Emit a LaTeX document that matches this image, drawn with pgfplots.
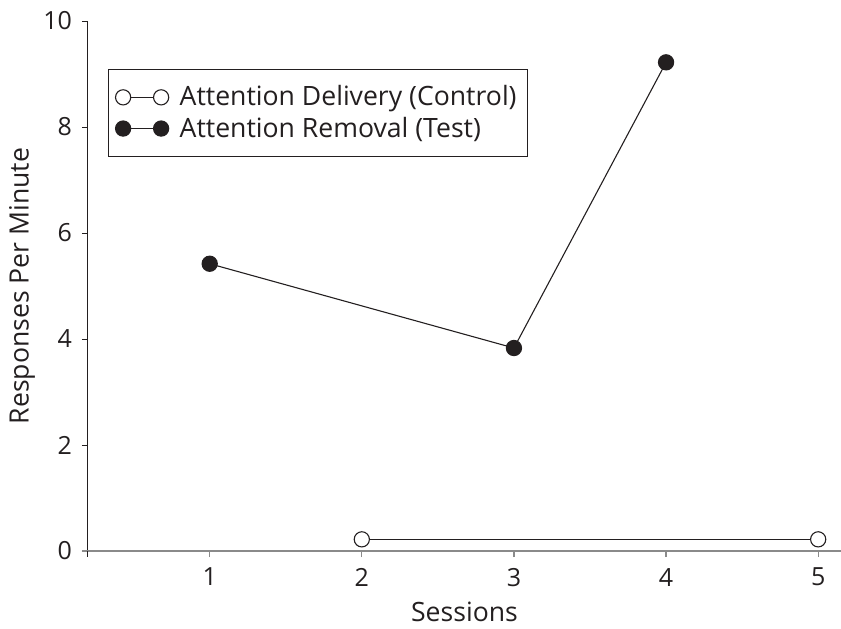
\documentclass[border=0pt]{standalone}
\usepackage{pgfplots}
\pgfplotsset{compat=1.18}
\usepackage{fontspec}
\setmainfont{Open Sans}
\definecolor{ink}{HTML}{231F20}
\definecolor{axgray}{HTML}{8A8A8A}
\begin{document}
\begin{tikzpicture}
\begin{axis}[
  scale only axis,
  width=376.5pt, height=265pt,
  xmin=0.2, xmax=5.15, ymin=0, ymax=10,
  axis x line=bottom, axis y line=left,
  x axis line style={-, draw=axgray, line width=0.8pt},
  y axis line style={-, draw=ink, line width=0.5pt},
  xtick={1,2,3,4,5}, ytick={0,2,4,6,8,10},
  tick align=outside,
  major tick length=3pt,
  xtick style={draw=axgray, line width=0.6pt},
  ytick style={draw=ink, line width=0.5pt},
  /pgf/number format/assume math mode=true,
  tick label style={font=\fontsize{12.5}{14}\selectfont, text=ink},
  xticklabel style={yshift=-2pt},
  yticklabel style={xshift=-1.5pt},
  xlabel={Sessions}, ylabel={Responses Per Minute},
  label style={font=\fontsize{13.3}{15}\selectfont, text=ink},
  xlabel style={at={(axis description cs:0.5,-0.133)}, anchor=base, inner sep=0pt},
  ylabel style={at={(axis description cs:-0.0876,0.5)}, anchor=center},
  clip=false,
  legend cell align=left,
  legend style={at={(rel axis cs:0.0266,0.909)}, anchor=north west,
    draw=ink, line width=0.5pt, font=\fontsize{13.3}{15}\selectfont, text=ink,
    inner xsep=3.5pt, inner ysep=6pt, row sep=0pt},
  legend image code/.code={\draw[#1] plot coordinates {(0pt,0pt) (19pt,0pt)};
    \path (26pt,0pt);},
]
\addplot[ink, line width=0.55pt, mark=*, mark size=3.8pt,
  mark options={fill=white, draw=ink, line width=0.55pt}]
  coordinates {(2,0.22) (5,0.22)};
\addlegendentry{Attention Delivery (Control)}
\addplot[ink, line width=0.55pt, mark=*, mark size=3.8pt,
  mark options={fill=ink, draw=ink}]
  coordinates {(1,5.42) (3,3.83) (4,9.22)};
\addlegendentry{Attention Removal (Test)}
\draw[axgray, line width=0.8pt] (axis cs:0.16,0) -- (axis cs:0.2,0);
\draw[ink, line width=0.5pt] (axis cs:0.2,0) -- (axis cs:0.2,-0.12);
\end{axis}
\pgfresetboundingbox
\path[use as bounding box] (-44pt,-38.5pt) rectangle (376.5pt,275.5pt);
\end{tikzpicture}
\end{document}
